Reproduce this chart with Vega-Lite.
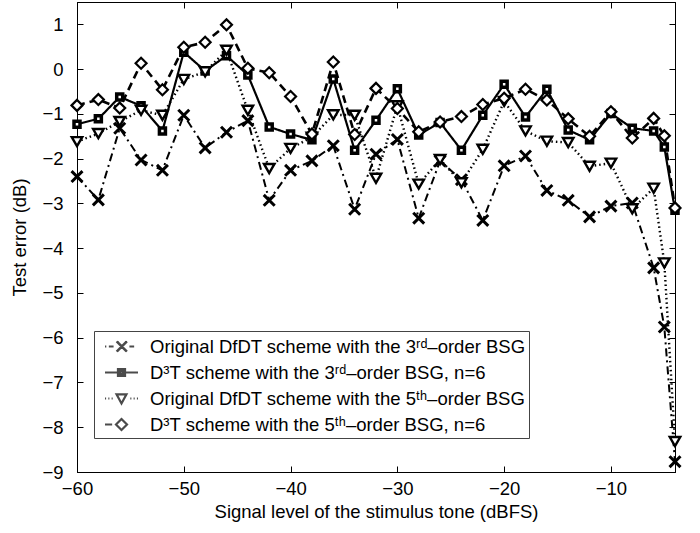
{
  "$schema": "https://vega.github.io/schema/vega-lite/v6.json",
  "autosize": "none",
  "width": 598,
  "height": 470,
  "padding": {"left": 77, "top": 2, "right": 25, "bottom": 61},
  "background": "white",
  "config": {
    "font": "Liberation Sans",
    "view": {"stroke": "black", "strokeWidth": 1},
    "axis": {
      "labelFont": "Liberation Sans", "titleFont": "Liberation Sans",
      "labelFontSize": 18.5, "titleFontSize": 18.5, "labelColor": "black", "titleColor": "black",
      "titleFontWeight": "normal", "domainColor": "black", "tickColor": "black",
      "grid": false, "tickSize": -6, "labelPadding": 20, "labelFlush": false, "labelOverlap": false
    }
  },
  "datasets": {
    "d": [
      {"s":"A","x":-60,"y":-2.4},{"s":"A","x":-58,"y":-2.92},{"s":"A","x":-56,"y":-1.32},{"s":"A","x":-54,"y":-2.03},{"s":"A","x":-52,"y":-2.26},{"s":"A","x":-50,"y":-1.03},{"s":"A","x":-48,"y":-1.76},{"s":"A","x":-46,"y":-1.41},{"s":"A","x":-44,"y":-1.15},{"s":"A","x":-42,"y":-2.93},{"s":"A","x":-40,"y":-2.26},{"s":"A","x":-38,"y":-2.05},{"s":"A","x":-36,"y":-1.71},{"s":"A","x":-34,"y":-3.13},{"s":"A","x":-32,"y":-1.9},{"s":"A","x":-30,"y":-1.57},{"s":"A","x":-28,"y":-3.33},{"s":"A","x":-26,"y":-2.05},{"s":"A","x":-24,"y":-2.47},{"s":"A","x":-22,"y":-3.38},{"s":"A","x":-20,"y":-2.16},{"s":"A","x":-18,"y":-1.94},{"s":"A","x":-16,"y":-2.71},{"s":"A","x":-14,"y":-2.93},{"s":"A","x":-12,"y":-3.3},{"s":"A","x":-10,"y":-3.06},{"s":"A","x":-8,"y":-2.99},{"s":"A","x":-6,"y":-4.44},{"s":"A","x":-5,"y":-5.76},{"s":"A","x":-4,"y":-8.77},
      {"s":"B","x":-60,"y":-1.23},{"s":"B","x":-58,"y":-1.11},{"s":"B","x":-56,"y":-0.62},{"s":"B","x":-54,"y":-0.82},{"s":"B","x":-52,"y":-1.38},{"s":"B","x":-50,"y":0.38},{"s":"B","x":-48,"y":-0.04},{"s":"B","x":-46,"y":0.3},{"s":"B","x":-44,"y":-0.13},{"s":"B","x":-42,"y":-1.29},{"s":"B","x":-40,"y":-1.45},{"s":"B","x":-38,"y":-1.58},{"s":"B","x":-36,"y":-0.22},{"s":"B","x":-34,"y":-1.81},{"s":"B","x":-32,"y":-1.14},{"s":"B","x":-30,"y":-0.44},{"s":"B","x":-28,"y":-1.47},{"s":"B","x":-26,"y":-1.19},{"s":"B","x":-24,"y":-1.81},{"s":"B","x":-22,"y":-1.03},{"s":"B","x":-20,"y":-0.34},{"s":"B","x":-18,"y":-1.07},{"s":"B","x":-16,"y":-0.45},{"s":"B","x":-14,"y":-1.36},{"s":"B","x":-12,"y":-1.58},{"s":"B","x":-10,"y":-0.99},{"s":"B","x":-8,"y":-1.32},{"s":"B","x":-6,"y":-1.38},{"s":"B","x":-5,"y":-1.74},{"s":"B","x":-4,"y":-3.15},
      {"s":"C","x":-60,"y":-1.62},{"s":"C","x":-58,"y":-1.44},{"s":"C","x":-56,"y":-1.17},{"s":"C","x":-54,"y":-0.92},{"s":"C","x":-52,"y":-1.03},{"s":"C","x":-50,"y":-0.23},{"s":"C","x":-48,"y":-0.06},{"s":"C","x":-46,"y":0.42},{"s":"C","x":-44,"y":-0.92},{"s":"C","x":-42,"y":-2.22},{"s":"C","x":-40,"y":-1.77},{"s":"C","x":-38,"y":-1.52},{"s":"C","x":-36,"y":-1.02},{"s":"C","x":-34,"y":-1.03},{"s":"C","x":-32,"y":-2.44},{"s":"C","x":-30,"y":-0.82},{"s":"C","x":-28,"y":-2.57},{"s":"C","x":-26,"y":-2.02},{"s":"C","x":-24,"y":-2.54},{"s":"C","x":-22,"y":-1.79},{"s":"C","x":-20,"y":-0.72},{"s":"C","x":-18,"y":-1.38},{"s":"C","x":-16,"y":-1.61},{"s":"C","x":-14,"y":-1.64},{"s":"C","x":-12,"y":-2.17},{"s":"C","x":-10,"y":-2.1},{"s":"C","x":-8,"y":-3.12},{"s":"C","x":-6,"y":-2.66},{"s":"C","x":-5,"y":-4.33},{"s":"C","x":-4,"y":-8.32},
      {"s":"D","x":-60,"y":-0.81},{"s":"D","x":-58,"y":-0.68},{"s":"D","x":-56,"y":-0.87},{"s":"D","x":-54,"y":0.13},{"s":"D","x":-52,"y":-0.46},{"s":"D","x":-50,"y":0.49},{"s":"D","x":-48,"y":0.6},{"s":"D","x":-46,"y":0.99},{"s":"D","x":-44,"y":0.02},{"s":"D","x":-42,"y":-0.08},{"s":"D","x":-40,"y":-0.61},{"s":"D","x":-38,"y":-1.45},{"s":"D","x":-36,"y":0.16},{"s":"D","x":-34,"y":-1.46},{"s":"D","x":-32,"y":-0.43},{"s":"D","x":-30,"y":-0.88},{"s":"D","x":-28,"y":-1.4},{"s":"D","x":-26,"y":-1.18},{"s":"D","x":-24,"y":-1.06},{"s":"D","x":-22,"y":-0.79},{"s":"D","x":-20,"y":-0.65},{"s":"D","x":-18,"y":-0.45},{"s":"D","x":-16,"y":-0.69},{"s":"D","x":-14,"y":-1.11},{"s":"D","x":-12,"y":-1.5},{"s":"D","x":-10,"y":-0.95},{"s":"D","x":-8,"y":-1.54},{"s":"D","x":-6,"y":-1.1},{"s":"D","x":-5,"y":-1.49},{"s":"D","x":-4,"y":-3.1}
    ]
  },
  "data": {"name": "d"},
  "resolve": {
    "axis": {"x": "independent", "y": "independent"},
    "scale": {"shape": "independent", "strokeWidth": "independent"},
    "legend": {"shape": "independent"}
  },
  "layer": [
    {
      "mark": {"type": "line", "color": "black"},
      "encoding": {
        "x": {"field": "x", "type": "quantitative", "scale": {"domain": [-60, -4], "nice": false, "zero": false},
              "axis": {"orient": "bottom", "values": [-60, -50, -40, -30, -20, -10], "title": "Signal level of the stimulus tone (dBFS)", "labelPadding": 13, "titlePadding": 5}},
        "y": {"field": "y", "type": "quantitative", "scale": {"domain": [-9, 1.5], "nice": false, "zero": false},
              "axis": {"orient": "left", "values": [-9, -8, -7, -6, -5, -4, -3, -2, -1, 0, 1], "format": "d", "title": "Test error (dB)", "titlePadding": 12}},
        "detail": {"field": "s", "type": "nominal"},
        "strokeDash": {"field": "s", "type": "nominal", "scale": {"domain": ["A", "B", "C", "D"], "range": [[8, 4, 2, 4], [1, 0], [1.5, 3], [8, 5]]}, "legend": null},
        "strokeWidth": {"field": "s", "type": "ordinal", "scale": {"domain": ["A", "B", "C", "D"], "range": [2, 2.6, 1.5, 2.2]}, "legend": null}
      }
    },
    {
      "transform": [{"filter": "datum.s == 'A'"}],
      "mark": {"type": "point", "shape": "M-1,-1L1,1M-1,1L1,-1", "size": 120, "filled": false, "stroke": "black", "strokeWidth": 3, "opacity": 1},
      "encoding": {
        "x": {"field": "x", "type": "quantitative", "axis": null},
        "y": {"field": "y", "type": "quantitative", "axis": null}
      }
    },
    {
      "transform": [{"filter": "datum.s == 'B'"}],
      "mark": {"type": "point", "shape": "square", "size": 36, "filled": true, "fill": "white", "stroke": "black", "strokeWidth": 3.5, "opacity": 1},
      "encoding": {
        "x": {"field": "x", "type": "quantitative", "axis": null},
        "y": {"field": "y", "type": "quantitative", "axis": null}
      }
    },
    {
      "transform": [{"filter": "datum.s == 'C'"}],
      "mark": {"type": "point", "shape": "triangle-down", "size": 110, "filled": true, "fill": "white", "stroke": "black", "strokeWidth": 2.4, "opacity": 1},
      "encoding": {
        "x": {"field": "x", "type": "quantitative", "axis": null},
        "y": {"field": "y", "type": "quantitative", "axis": null}
      }
    },
    {
      "transform": [{"filter": "datum.s == 'D'"}],
      "mark": {"type": "point", "shape": "diamond", "size": 120, "filled": true, "fill": "white", "stroke": "black", "strokeWidth": 2.2, "opacity": 1},
      "encoding": {
        "x": {"field": "x", "type": "quantitative", "axis": null},
        "y": {"field": "y", "type": "quantitative", "axis": null}
      }
    },
    {
      "transform": [{"filter": "datum.x > 100"}],
      "mark": {"type": "point", "filled": false, "color": "black", "strokeWidth": 2.2},
      "encoding": {
        "x": {"field": "x", "type": "quantitative", "axis": {"orient": "top", "labels": false, "title": null, "values": [-60, -50, -40, -30, -20, -10]}},
        "y": {"field": "y", "type": "quantitative", "axis": {"orient": "right", "labels": false, "title": null, "values": [-9, -8, -7, -6, -5, -4, -3, -2, -1, 0, 1]}},
        "shape": {
          "field": "s", "type": "nominal",
          "scale": {"domain": ["A", "B", "C", "D"], "range": [
            "M-1.5,0L-1.38,0M-1.15,0L-0.72,0M-0.45,-0.45L0.45,0.45M-0.45,0.45L0.45,-0.45M-0.4,-0.45L0.5,0.45M-0.4,0.45L0.5,-0.45M0.72,0L1.15,0",
            "M-1.5,0L-0.32,0M0.32,0L1.5,0M-0.32,-0.32L0.32,-0.32L0.32,0.32L-0.32,0.32ZM-0.12,-0.12L0.12,-0.12L0.12,0.12L-0.12,0.12Z",
            "M-1.5,0L-1.4,0M-1.2,0L-1.1,0M-0.9,0L-0.8,0M-0.45,-0.38L0.45,-0.38L0,0.45ZM0.8,0L0.9,0M1.1,0L1.2,0M1.4,0L1.5,0",
            "M-1.5,0L-0.85,0M-0.5,0L0,-0.5L0.5,0L0,0.5Z"
          ]},
          "legend": {
            "orient": "none", "legendX": 17, "legendY": 329, "title": null,
            "labelExpr": "{'A':'Original DfDT scheme with the 3ʳᵈ–order BSG','B':'D³T scheme with the 3ʳᵈ–order BSG, n=6','C':'Original DfDT scheme with the 5ᵗʰ–order BSG','D':'D³T scheme with the 5ᵗʰ–order BSG, n=6'}[datum.label]",
            "labelFont": "Liberation Sans", "labelFontSize": 18.5, "labelColor": "black", "labelLimit": 0,
            "symbolSize": 484, "symbolStrokeWidth": 2.2, "symbolStrokeColor": "black",
            "symbolOffset": 12, "labelOffset": 16, "rowPadding": 4, "padding": 3,
            "strokeColor": "#444", "fillColor": "white"
          }
        }
      }
    }
  ]
}
